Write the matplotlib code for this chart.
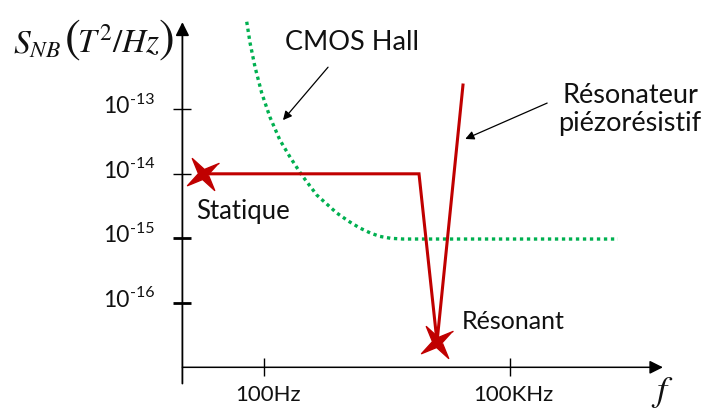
import numpy as np
import matplotlib
matplotlib.use('Agg')
import matplotlib.pyplot as plt

plt.rcParams['font.family'] = ['Lato', 'DejaVu Sans']
plt.rcParams['mathtext.fontset'] = 'stix'

# --- data (frequency in Hz, noise PSD in T^2/Hz) ---
cmos_f = [61, 67, 77, 93, 117, 155, 206, 286, 437, 766, 1100, 1473, 2000, 2586,
          3500, 4935, 2.08e6]
cmos_s = [2.28e-12, 1.07e-12, 4.53e-13, 1.79e-13, 7.6e-14, 3.34e-14, 1.82e-14,
          9.6e-15, 4.69e-15, 2.47e-15, 1.8e-15, 1.44e-15, 1.2e-15, 1.07e-15,
          1.0e-15, 9.75e-16, 9.75e-16]

piezo_f = [17.8, 7740, 12850, 26650]
piezo_s = [1e-14, 1e-14, 2.47e-17, 2.38e-13]

star_f = [17.8, 12850]
star_s = [1e-14, 2.47e-17]

ytick_vals = [1e-13, 1e-14, 1e-15, 1e-16]
ytick_labels = ['-13', '-14', '-15', '-16']
xtick_vals = [100, 1e5]
xtick_labels = ['100Hz', '100KHz']

red = '#C00000'
green = '#00B050'
ink = '#111111'

fig = plt.figure(figsize=(7.07, 4.12), dpi=100)
ax = fig.add_axes([0, 0, 1, 1])
ax.set_xscale('log')
ax.set_yscale('log')
ax.set_xlim(10 ** -1.227, 10 ** 7.405)
ax.set_ylim(10 ** -17.693, 10 ** -11.305)
ax.axis('off')

# axes with arrow heads
ax.annotate('', xy=(10, 2.25e-12), xytext=(10, 5.6e-18),
            arrowprops=dict(arrowstyle='-|>', lw=1.3, color='black',
                            mutation_scale=20, shrinkA=0, shrinkB=0))
ax.annotate('', xy=(7.36e6, 1e-17), xytext=(10, 1e-17),
            arrowprops=dict(arrowstyle='-|>', lw=1.1, color='black',
                            mutation_scale=20, shrinkA=0, shrinkB=0))

# tick marks
ax.plot([10, 10], ytick_vals[:2], ls='none', marker='_', ms=13, mew=1.0, color='black')
ax.plot([10, 10], ytick_vals[2:], ls='none', marker='_', ms=13, mew=2.0, color='black')
ax.plot(xtick_vals, [1e-17, 1e-17], ls='none', marker='|', ms=13, mew=1.0, color='black')

# "10" with a plain hyphen exponent, like the sketch
for v, lab in zip(ytick_vals, ytick_labels):
    ax.annotate('10', xy=(5.4, v), xytext=(-22, 2), textcoords='offset points',
                ha='right', va='center', fontsize=16.5, color=ink)
    ax.annotate(lab, xy=(5.4, v), xytext=(-22, 7), textcoords='offset points',
                ha='left', va='center', fontsize=11.5, color=ink)
for v, lab in zip(xtick_vals, xtick_labels):
    ax.text(v * 1.1, 3.7e-18, lab, ha='center', va='center', fontsize=16, color=ink)

# curves
ax.plot(cmos_f, cmos_s, color=green, lw=2.4, ls=(0, (1, 1.1)), dash_capstyle='butt')
ax.plot(piezo_f, piezo_s, color=red, lw=2.2, solid_joinstyle='miter')

ang = np.deg2rad(35) + np.arange(8) * np.pi / 4
rad = np.where(np.arange(8) % 2 == 0, 1.0, 0.26)
star = list(zip(rad * np.cos(ang), rad * np.sin(ang)))
ax.plot(star_f, star_s, ls='none', marker=star, ms=23, color=red, mec=red)

# y label S_NB(T^2/Hz) with tall brackets
ax.text(0.0855, 7.7e-13, r'$S_{NB}$', ha='left', va='baseline', fontsize=24, color=ink)
ax.text(0.37, 1.2e-12, '(', ha='left', va='center', fontsize=34, color=ink,
        family='STIXGeneral')
ax.text(0.52, 7.7e-13, r'$T^{2}/Hz$', ha='left', va='baseline', fontsize=24, color=ink)
ax.text(5.1, 1.2e-12, ')', ha='left', va='center', fontsize=34, color=ink,
        family='STIXGeneral')
ax.text(7.2e6, 4.1e-18, r'$f$', ha='center', va='center', fontsize=26, color=ink)

ax.text(1178, 1.07e-12, 'CMOS Hall', ha='center', va='center', fontsize=19.5, color=ink)
ax.text(2.93e6, 1.0e-13, 'Résonateur\npiézorésistif', ha='center', va='center',
        fontsize=19.5, linespacing=1.15, color=ink)
ax.text(55, 2.65e-15, 'Statique', ha='center', va='center', fontsize=18.5, color=ink)
ax.text(2.61e4, 5.06e-17, 'Résonant', ha='left', va='center', fontsize=18, color=ink)

ax.annotate('', xy=(169, 6.8e-14), xytext=(600, 4.5e-13),
            arrowprops=dict(arrowstyle='-|>', lw=0.9, color='black',
                            mutation_scale=13, shrinkA=0, shrinkB=0))
ax.annotate('', xy=(2.84e4, 3.47e-14), xytext=(2.84e5, 1.25e-13),
            arrowprops=dict(arrowstyle='-|>', lw=0.9, color='black',
                            mutation_scale=13, shrinkA=0, shrinkB=0))

fig.savefig('out.png', dpi=100)
